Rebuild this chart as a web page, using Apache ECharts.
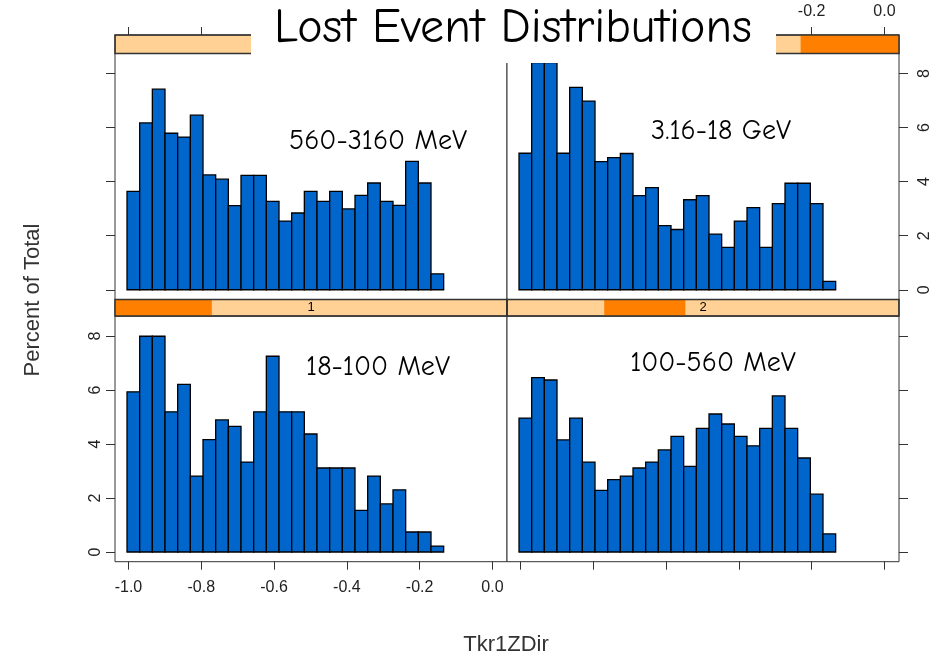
<!DOCTYPE html>
<html>
<head>
<meta charset="utf-8">
<script src="https://cdn.jsdelivr.net/npm/echarts@6/dist/echarts.min.js"></script>
<style>
  html, body { margin: 0; padding: 0; background: #fff; }
  #chart { width: 941px; height: 656px; }
</style>
</head>
<body>
<div id="chart"></div>
<script>
// histogram bins on Tkr1ZDir (25 equal bins)
const binStart = -1.004
const binWidth = 0.0348

// percent of total per bin, one array per energy panel
const pct18to100 = [5.93, 7.99, 7.99, 5.19, 6.21, 2.81, 4.16, 4.89, 4.65, 3.33, 5.19, 7.25, 5.19, 5.19, 4.37, 3.11, 3.11, 3.11, 1.54, 2.81, 1.78, 2.30, 0.74, 0.74, 0.22]
const pct100to560 = [4.96, 6.46, 6.37, 4.15, 4.96, 3.33, 2.28, 2.68, 2.81, 3.11, 3.33, 3.78, 4.28, 3.17, 4.58, 5.11, 4.74, 4.28, 3.93, 4.58, 5.78, 4.58, 3.48, 2.14, 0.67]
const pct560to3160 = [3.64, 6.17, 7.42, 5.79, 5.65, 6.46, 4.25, 4.09, 3.11, 4.23, 4.23, 3.27, 2.54, 2.84, 3.64, 3.27, 3.64, 2.99, 3.49, 3.95, 3.27, 3.12, 4.75, 3.95, 0.59]
const pct3160to18000 = [5.05, 8.4, 8.4, 5.05, 7.49, 6.98, 4.74, 4.89, 5.04, 3.48, 3.78, 2.37, 2.23, 3.33, 3.48, 2.06, 1.57, 2.54, 3.04, 1.57, 3.19, 3.94, 3.94, 3.19, 0.31]

const panelLabels = ['560-3160 MeV', '3.16-18 GeV', '18-100 MeV', '100-560 MeV']
const stripLevels = ['3', '4', '1', '2']
// shingle interval of each level, as fraction of the strip
const stripRanges = [[0.498, 0.749], [0.749, 1.0], [0.0, 0.247], [0.248, 0.455]]

const xTicks = [-1.0, -0.8, -0.6, -0.4, -0.2, 0.0]
const yTicks = [0, 2, 4, 6, 8]

const panelData = [pct560to3160, pct3160to18000, pct18to100, pct100to560]

const chart = echarts.init(document.getElementById('chart'))

const BLUE = '#0066cc'
const LIGHT = '#ffd194'
const DARK = '#ff8000'
const AXIS = '#333'
const tickFont = { fontFamily: 'Liberation Sans, Arial', fontSize: 16, color: '#222' }
const comic = '"Comic Sans MS", "Comic Neue", "Open Sans", sans-serif'

// panel layout: top-left, top-right, bottom-left, bottom-right
const cols = [115, 507]
const panelW = 392
const panels = [
  { left: cols[0], top: 53.5, h: 246, stripTop: 35, stripH: 18.5 },
  { left: cols[1], top: 53.5, h: 246, stripTop: 35, stripH: 18.5 },
  { left: cols[0], top: 316, h: 245.7, stripTop: 299.5, stripH: 16.5 },
  { left: cols[1], top: 316, h: 245.7, stripTop: 299.5, stripH: 16.5 }
]

const grids = []
const xAxes = []
const yAxes = []
const series = []

panels.forEach((p, i) => {
  const isTop = i < 2
  const isLeft = i % 2 === 0
  grids.push({ left: p.left, top: p.top, width: panelW, height: p.h, show: true, borderColor: AXIS, borderWidth: 1, backgroundColor: '#fff' })
  xAxes.push({
    gridIndex: i, type: 'value', min: -1.037, max: 0.04,
    position: isTop ? 'top' : 'bottom',
    offset: isTop ? p.stripH : 0,
    splitLine: { show: false }, axisLine: { show: false, onZero: false },
    axisTick: { show: true, length: 8, customValues: xTicks, lineStyle: { color: AXIS } },
    axisLabel: {
      show: (isTop && !isLeft) || (!isTop && isLeft),
      customValues: xTicks, margin: isTop ? 15 : 18,
      formatter: v => v.toFixed(1), ...tickFont
    }
  })
  yAxes.push({
    gridIndex: i, type: 'value', min: -0.36, max: 8.74,
    position: isLeft ? 'left' : 'right',
    splitLine: { show: false }, axisLine: { show: false, onZero: false },
    axisTick: { show: true, length: 9, customValues: yTicks, lineStyle: { color: AXIS } },
    axisLabel: {
      show: (isTop && !isLeft) || (!isTop && isLeft),
      customValues: yTicks, rotate: 90, margin: isLeft ? 11 : 18,
      ...tickFont
    }
  })
  series.push({
    type: 'custom',
    xAxisIndex: i, yAxisIndex: i,
    data: panelData[i].map((v, k) => [binStart + k * binWidth, binStart + (k + 1) * binWidth, v]),
    encode: { x: [0, 1], y: 2 },
    renderItem: (params, api) => {
      const p0 = api.coord([api.value(0), 0])
      const p1 = api.coord([api.value(1), api.value(2)])
      return {
        type: 'rect',
        shape: { x: p0[0], y: p1[1], width: p1[0] - p0[0], height: p0[1] - p1[1] },
        style: { fill: BLUE, stroke: '#000', lineWidth: 1.3 }
      }
    }
  })
})

// strips drawn as their own small grids
panels.forEach((p, i) => {
  const g = grids.length
  grids.push({ left: p.left, top: p.stripTop, width: panelW, height: p.stripH, show: true, backgroundColor: LIGHT, borderColor: AXIS, borderWidth: 1 })
  xAxes.push({ gridIndex: g, type: 'value', min: 0, max: 1, show: false })
  yAxes.push({ gridIndex: g, type: 'value', min: 0, max: 1, show: false })
  series.push({
    type: 'custom',
    xAxisIndex: g, yAxisIndex: g,
    data: [[stripRanges[i][0], stripRanges[i][1]]],
    encode: { x: [0, 1] },
    renderItem: (params, api) => {
      const a = api.coord([api.value(0), 1])
      const b = api.coord([api.value(1), 0])
      const cs = params.coordSys
      return {
        type: 'group',
        children: [
          { type: 'rect', shape: { x: a[0], y: a[1], width: b[0] - a[0], height: b[1] - a[1] }, style: { fill: DARK } },
          { type: 'rect', shape: { x: cs.x, y: cs.y, width: cs.width, height: cs.height }, style: { fill: null, stroke: AXIS, lineWidth: 1.5 } },
          { type: 'text', x: cs.x + cs.width / 2, y: cs.y + cs.height / 2, style: { text: stripLevels[i], fill: '#000', font: '13px Liberation Sans', align: 'center', verticalAlign: 'middle' } }
        ]
      }
    }
  })
})

const labelPos = [[378, 141], [721, 131], [378, 367], [713, 363]]

chart.setOption({
  animation: false,
  backgroundColor: '#fff',
  grid: grids,
  xAxis: xAxes,
  yAxis: yAxes,
  series: series,
  graphic: [
    ...panelLabels.map((t, i) => ({
      type: 'text', z: 100, x: labelPos[i][0], y: labelPos[i][1],
      style: { text: t, fill: '#000', font: '28px ' + comic, align: 'center', verticalAlign: 'middle' }
    })),
    { type: 'rect', z: 100, shape: { x: 251, y: 0, width: 525, height: 63 }, style: { fill: '#fff' } },
    {
      type: 'text', z: 101, x: 513, y: 28,
      style: { text: 'Lost Event Distributions', fill: '#000', font: '48px ' + comic, align: 'center', verticalAlign: 'middle' }
    },
    {
      type: 'text', z: 100, x: 33, y: 300, rotation: Math.PI / 2,
      style: { text: 'Percent of Total', fill: '#333', font: '22px Liberation Sans, Arial', align: 'center', verticalAlign: 'middle' }
    },
    {
      type: 'text', z: 100, x: 506, y: 645,
      style: { text: 'Tkr1ZDir', fill: '#333', font: '22px Liberation Sans, Arial', align: 'center', verticalAlign: 'middle' }
    }
  ]
})
</script>
</body>
</html>
